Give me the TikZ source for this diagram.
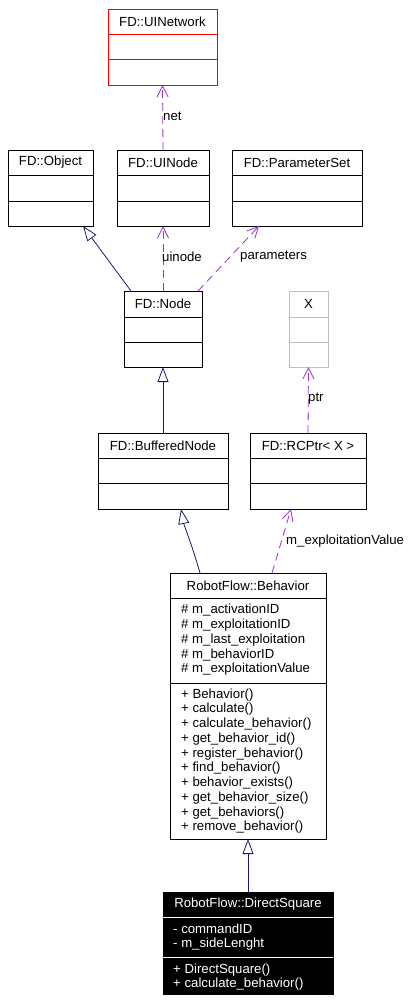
\documentclass[tikz,border=0pt]{standalone}
\usepackage{fontspec}
\setmainfont{Liberation Sans}
\usetikzlibrary{arrows.meta}
\definecolor{deppurple}{HTML}{9A32CD}
\definecolor{inhnavy}{HTML}{191970}
\definecolor{lightgray}{HTML}{BFBFBF}
\begin{document}
\begin{tikzpicture}[x=1pt,y=-1pt,
  font=\fontsize{13.2}{14.75}\selectfont,
  umlbox/.style={draw=black, line width=0.9pt, inner sep=0pt, outer sep=0pt, anchor=north west},
  sepline/.style={line width=0.9pt},
  title/.style={inner sep=0pt, anchor=center},
  members/.style={inner sep=0pt, anchor=west, align=left},
  dep/.style={draw=deppurple, line width=0.8pt, dash pattern=on 8pt off 5pt,
    -{Straight Barb[length=11pt,width=11pt,line width=0.8pt]}},
  inh/.style={draw=inhnavy, line width=0.8pt,
    -{Triangle[open,length=15pt,width=11pt,line width=0.8pt,fill=white]}},
  lbl/.style={inner sep=0pt, anchor=west}]
\useasboundingbox (0,0) rectangle (410,1004);

% ---- FD::UINetwork (red)
\node[umlbox, draw=red, minimum width=109pt, minimum height=76pt] (uinet) at (108,9) {};
\draw[sepline, red] ([yshift=-25]uinet.north west) -- ([yshift=-25]uinet.north east);
\draw[sepline, red] ([yshift=-50]uinet.north west) -- ([yshift=-50]uinet.north east);
\node[title] (uinet-t) at ([yshift=-12.5]uinet.north) {FD::UINetwork};

% ---- FD::Object
\node[umlbox, minimum width=85pt, minimum height=76pt] (obj) at (8,150) {};
\draw[sepline] ([yshift=-25]obj.north west) -- ([yshift=-25]obj.north east);
\draw[sepline] ([yshift=-51]obj.north west) -- ([yshift=-51]obj.north east);
\node[title] (obj-t) at ([yshift=-12.5]obj.north) {FD::Object};

% ---- FD::UINode
\node[umlbox, minimum width=92pt, minimum height=76pt] (uinode) at (117,150) {};
\draw[sepline] ([yshift=-25]uinode.north west) -- ([yshift=-25]uinode.north east);
\draw[sepline] ([yshift=-51]uinode.north west) -- ([yshift=-51]uinode.north east);
\node[title] (uinode-t) at ([yshift=-12.5]uinode.north) {FD::UINode};

% ---- FD::ParameterSet
\node[umlbox, minimum width=130pt, minimum height=76pt] (pset) at (232,150) {};
\draw[sepline] ([yshift=-25]pset.north west) -- ([yshift=-25]pset.north east);
\draw[sepline] ([yshift=-51]pset.north west) -- ([yshift=-51]pset.north east);
\node[title] (pset-t) at ([yshift=-12.5]pset.north) {FD::ParameterSet};

% ---- FD::Node
\node[umlbox, minimum width=78pt, minimum height=76pt] (fdnode) at (124,291) {};
\draw[sepline] ([yshift=-26]fdnode.north west) -- ([yshift=-26]fdnode.north east);
\draw[sepline] ([yshift=-51]fdnode.north west) -- ([yshift=-51]fdnode.north east);
\node[title] (fdnode-t) at ([yshift=-12.5]fdnode.north) {FD::Node};

% ---- X (gray)
\node[umlbox, draw=lightgray, minimum width=39pt, minimum height=76pt] (xcls) at (289,291) {};
\draw[sepline, lightgray] ([yshift=-26]xcls.north west) -- ([yshift=-26]xcls.north east);
\draw[sepline, lightgray] ([yshift=-51]xcls.north west) -- ([yshift=-51]xcls.north east);
\node[title] (xcls-t) at ([yshift=-12.5]xcls.north) {X};

% ---- FD::BufferedNode
\node[umlbox, minimum width=130pt, minimum height=76pt] (bnode) at (98,433) {};
\draw[sepline] ([yshift=-25]bnode.north west) -- ([yshift=-25]bnode.north east);
\draw[sepline] ([yshift=-50]bnode.north west) -- ([yshift=-50]bnode.north east);
\node[title] (bnode-t) at ([yshift=-12.5]bnode.north) {FD::BufferedNode};

% ---- FD::RCPtr< X >
\node[umlbox, minimum width=116pt, minimum height=76pt] (rcptr) at (250,433) {};
\draw[sepline] ([yshift=-25]rcptr.north west) -- ([yshift=-25]rcptr.north east);
\draw[sepline] ([yshift=-50]rcptr.north west) -- ([yshift=-50]rcptr.north east);
\node[title] (rcptr-t) at ([yshift=-12.5]rcptr.north) {FD::RCPtr< X >};

% ---- RobotFlow::Behavior
\node[umlbox, minimum width=156pt, minimum height=266pt] (beh) at (170,573) {};
\draw[sepline] ([yshift=-25]beh.north west) -- ([yshift=-25]beh.north east);
\draw[sepline] ([yshift=-110]beh.north west) -- ([yshift=-110]beh.north east);
\node[title] (beh-t) at ([yshift=-12.5]beh.north) {RobotFlow::Behavior};
\node[members] (beh-a) at ([xshift=11,yshift=-67]beh.north west)
  {\# m\_activationID\\\# m\_exploitationID\\\# m\_last\_exploitation\\\# m\_behaviorID\\\# m\_exploitationValue};
\node[members] (beh-m) at ([xshift=11,yshift=-188]beh.north west)
  {+ Behavior()\\+ calculate()\\+ calculate\_behavior()\\+ get\_behavior\_id()\\+ register\_behavior()\\+ find\_behavior()\\+ behavior\_exists()\\+ get\_behavior\_size()\\+ get\_behaviors()\\+ remove\_behavior()};

% ---- RobotFlow::DirectSquare (black)
\node[umlbox, fill=black, minimum width=170pt, minimum height=102pt] (ds) at (163,892) {};
\draw[sepline, white] ([yshift=-25]ds.north west) -- ([yshift=-25]ds.north east);
\draw[sepline, white] ([yshift=-65]ds.north west) -- ([yshift=-65]ds.north east);
\node[title, text=white] (ds-t) at ([yshift=-12.5]ds.north) {RobotFlow::DirectSquare};
\node[members, text=white] (ds-a) at ([xshift=10,yshift=-45]ds.north west)
  {- commandID\\- m\_sideLenght};
\node[members, text=white] (ds-m) at ([xshift=10,yshift=-85]ds.north west)
  {+ DirectSquare()\\+ calculate\_behavior()};

% ---- connectors
\draw[dep] (uinode.north) -- (uinet.south);
\node[lbl] (l-net) at (163,116) {net};

\draw[inh] ([xshift=7]fdnode.north west) -- ([xshift=75]obj.south west);
\draw[dep] (fdnode.north) -- (uinode.south);
\node[lbl] (l-uinode) at (162,257) {uinode};
\draw[dep] ([xshift=-4]fdnode.north east) -- ([xshift=27]pset.south west);
\node[lbl] (l-param) at (240,257) {parameters};

\draw[inh] (bnode.north) -- (fdnode.south);
\draw[dep] (rcptr.north) -- (xcls.south);
\node[lbl] (l-ptr) at (308,399) {ptr};

\draw[inh] ([xshift=30]beh.north west) .. controls (192,545) and (184,525) .. ([xshift=83]bnode.south west);
\draw[dep] ([xshift=102]beh.north west) -- ([xshift=41]rcptr.south west);
\node[lbl] (l-mexp) at (286,541) {m\_exploitationValue};

\draw[inh] (ds.north) -- (beh.south);
\end{tikzpicture}
\end{document}
